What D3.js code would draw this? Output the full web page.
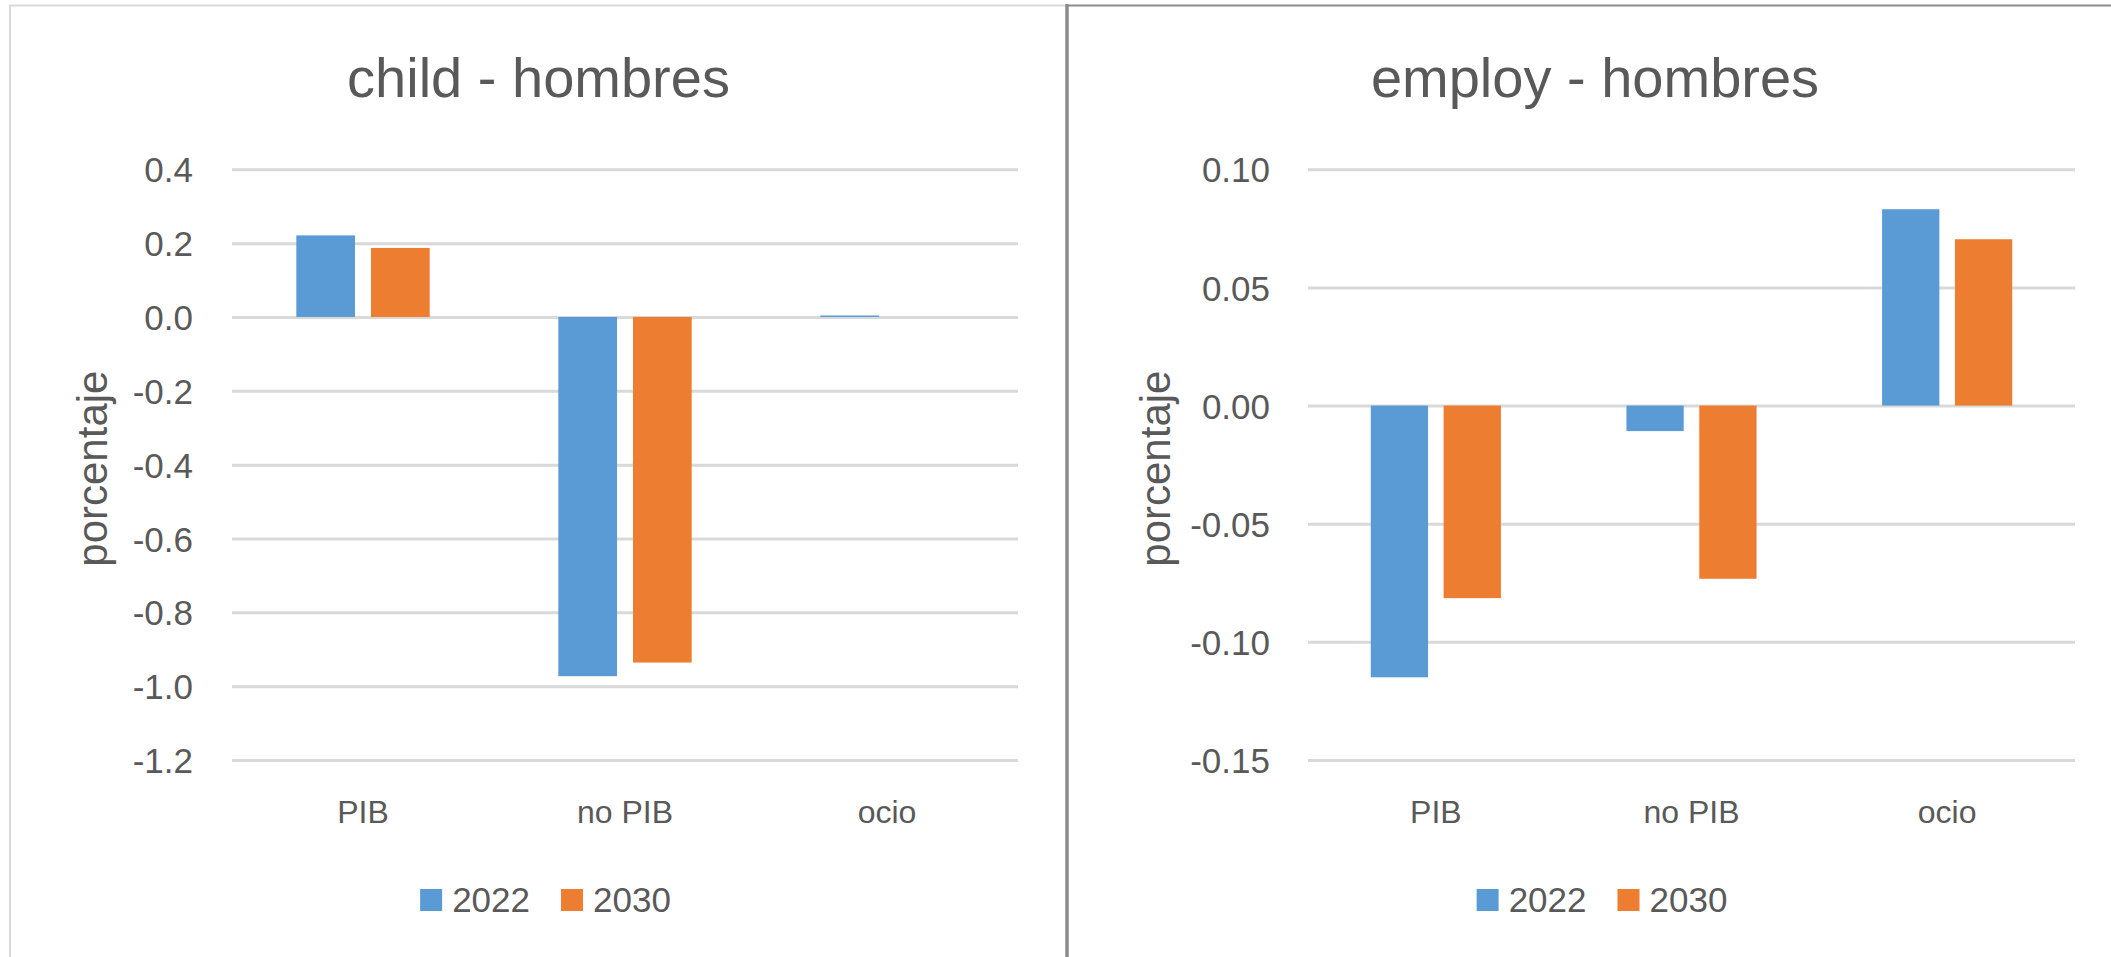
<!DOCTYPE html>
<html>
<head>
<meta charset="utf-8">
<script src="https://cdn.jsdelivr.net/npm/d3@7/dist/d3.min.js"></script>
<style>
  body { margin: 0; background: #ffffff; }
  svg { display: block; }
  text { font-family: "Liberation Sans", Arial, sans-serif; fill: #595959; }
</style>
</head>
<body>
<svg id="chart" width="2111" height="957"></svg>
<script>
// ---- data ----
const categories = ["PIB", "no PIB", "ocio"];
const seriesNames = ["2022", "2030"];
const seriesColors = ["#5b9bd5", "#ed7d31"];

const childTitle = "child - hombres";
const child2022 = [0.221, -0.973, 0.004];
const child2030 = [0.187, -0.936, 0.0];
const childTicks = [0.4, 0.2, 0.0, -0.2, -0.4, -0.6, -0.8, -1.0, -1.2];

const employTitle = "employ - hombres";
const employ2022 = [-0.1150, -0.0108, 0.0831];
const employ2030 = [-0.0815, -0.0733, 0.0704];
const employTicks = [0.10, 0.05, 0.00, -0.05, -0.10, -0.15];

const yAxisTitle = "porcentaje";

// ---- drawing ----
const svg = d3.select("#chart");
svg.append("rect").attr("width", 2111).attr("height", 957).attr("fill", "#fff");

const loc = d3.formatLocale({decimal: ".", thousands: ",", grouping: [3], currency: ["", ""], minus: "-"});

function drawChart(cfg) {
  const g = svg.append("g");
  // chart box
  g.append("rect")
    .attr("x", cfg.box[0]).attr("y", cfg.box[1])
    .attr("width", cfg.box[2]).attr("height", cfg.box[3])
    .attr("fill", "none").attr("stroke", cfg.borderColor).attr("stroke-width", cfg.borderWidth);

  const x0 = d3.scaleBand().domain(categories).range([cfg.left, cfg.right]).paddingInner(0).paddingOuter(0);
  const bw = x0.bandwidth();
  const barW = bw * 0.224, gap = bw * 0.061;
  const x1 = d3.scaleBand().domain(seriesNames).range([0, 2 * barW + gap])
    .paddingInner(gap / (barW + gap)).paddingOuter(0);
  const y = d3.scaleLinear().domain(d3.extent(cfg.ticks)).range([cfg.bottom, cfg.top]);

  // gridlines + tick labels
  const axis = d3.axisLeft(y).tickValues(cfg.ticks)
    .tickSize(-(cfg.right - cfg.left)).tickPadding(cfg.left - cfg.labelRight)
    .tickFormat(loc.format(cfg.fmt));
  const ag = g.append("g").attr("transform", `translate(${cfg.left},0)`).call(axis);
  ag.select(".domain").remove();
  ag.selectAll(".tick line").attr("stroke", "#d9d9d9").attr("stroke-width", 3);
  ag.selectAll(".tick text")
    .attr("fill", "#595959").attr("font-size", 35)
    .attr("font-family", "Liberation Sans, Arial, sans-serif")
    .attr("dy", "0.36em");

  // bars
  const data = [];
  categories.forEach((c, i) => {
    cfg.series.forEach((s, j) => data.push({cat: c, ser: seriesNames[j], v: s[i], color: seriesColors[j]}));
  });
  const offset = (bw - (2 * barW + gap)) / 2;
  g.append("g").selectAll("rect").data(data).join("rect")
    .attr("x", d => x0(d.cat) + offset + x1(d.ser))
    .attr("width", x1.bandwidth())
    .attr("y", d => y(Math.max(0, d.v)))
    .attr("height", d => Math.abs(y(d.v) - y(0)))
    .attr("fill", d => d.color);

  // category labels
  g.append("g").selectAll("text").data(categories).join("text")
    .attr("x", d => x0(d) + bw / 2).attr("y", 823)
    .attr("text-anchor", "middle").attr("font-size", 32)
    .text(d => d);

  // title
  g.append("text").attr("x", cfg.cx).attr("y", 97)
    .attr("text-anchor", "middle").attr("font-size", 56).text(cfg.title);

  // y axis title
  g.append("text")
    .attr("transform", `translate(${cfg.ytX},${(cfg.top + cfg.bottom) / 2 + 4}) rotate(-90)`)
    .attr("text-anchor", "middle").attr("font-size", 42).text(yAxisTitle);

  // legend
  const sq = 22, tgap = 10, itemGap = 31, fs = 35;
  const lg = g.append("g");
  const items = seriesNames.map((n, i) => ({n, c: seriesColors[i]}));
  // measure
  const tmp = lg.append("text").attr("font-size", fs).text(seriesNames[0]);
  const tw = tmp.node().getComputedTextLength();
  tmp.remove();
  const total = items.length * (sq + tgap + tw) + (items.length - 1) * itemGap;
  let lx = cfg.cx + 7 - total / 2;
  items.forEach(it => {
    lg.append("rect").attr("x", lx).attr("y", 889).attr("width", sq).attr("height", sq).attr("fill", it.c);
    lg.append("text").attr("x", lx + sq + tgap).attr("y", 911.5).attr("font-size", fs).text(it.n);
    lx += sq + tgap + tw + itemGap;
  });
}

drawChart({
  title: childTitle, series: [child2022, child2030], ticks: childTicks, fmt: ".1f",
  box: [10, 5.5, 1057, 1000], borderColor: "#d9d9d9", borderWidth: 2,
  left: 232, right: 1018, top: 169.3, bottom: 760, labelRight: 193, cx: 538.5, ytX: 107
});
drawChart({
  title: employTitle, series: [employ2022, employ2030], ticks: employTicks, fmt: ".2f",
  box: [1067, 5.5, 1100, 1000], borderColor: "#8c8c8c", borderWidth: 2,
  left: 1308, right: 2075, top: 169.3, bottom: 760, labelRight: 1270, cx: 1595, ytX: 1170
});
// divider (shared edge)
svg.append("line").attr("x1", 1067).attr("x2", 1067).attr("y1", 4).attr("y2", 957)
  .attr("stroke", "#8c8c8c").attr("stroke-width", 3.5);
</script>
</body>
</html>
